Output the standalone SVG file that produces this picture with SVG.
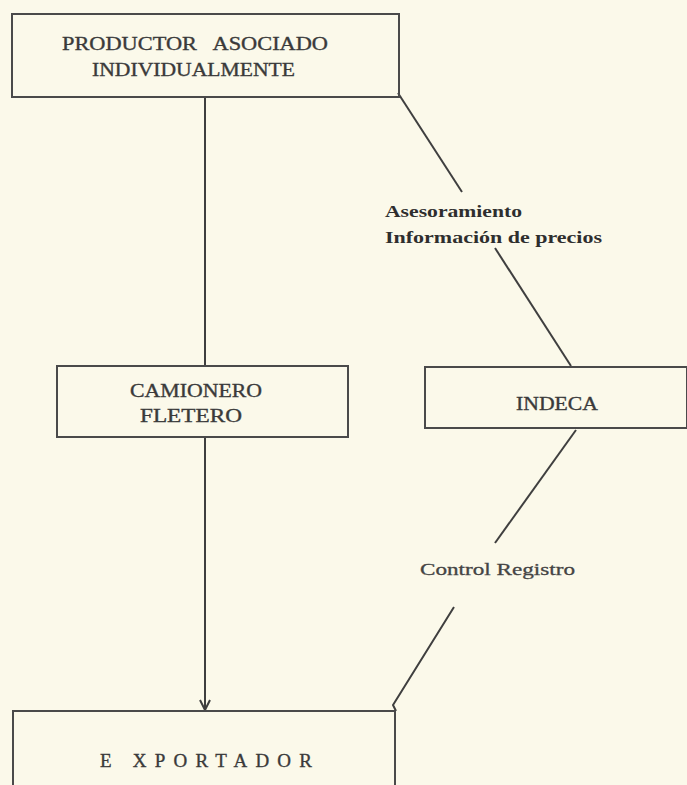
<svg xmlns="http://www.w3.org/2000/svg" width="687" height="785" viewBox="0 0 687 785">
  <style>
    .box { fill: none; stroke: #4a4a4a; stroke-width: 2; }
    .conn { fill: none; stroke: #3f3f3f; stroke-width: 2; }
    .t { font-family: "Liberation Serif", "Times New Roman", serif; fill: #3a3a3a; }
    .node { font-size: 19px; stroke: #3a3a3a; stroke-width: 0.35; }
    .lab { font-size: 16.5px; font-weight: bold; fill: #2e2e2e; }
    .lab2 { font-size: 17px; fill: #444; stroke: #444; stroke-width: 0.3; }
    .pre { white-space: pre; }
  </style>
  <defs>
    <marker id="arr" viewBox="0 0 12 12" refX="11" refY="6" markerWidth="12" markerHeight="12" markerUnits="userSpaceOnUse" orient="auto">
      <path d="M1,1 L11,6 L1,11" fill="none" stroke="#3f3f3f" stroke-width="2"/>
    </marker>
  </defs>
  <rect width="687" height="785" fill="#fbf9ea"/>

  <g id="connectors">
    <line class="conn" x1="205" y1="97" x2="205" y2="366"/>
    <line class="conn" x1="205" y1="437" x2="205" y2="710" marker-end="url(#arr)"/>
    <line class="conn" x1="398" y1="93" x2="462" y2="192"/>
    <line class="conn" x1="495" y1="248" x2="571" y2="366"/>
    <line class="conn" x1="576" y1="430" x2="495" y2="543"/>
    <polyline class="conn" points="454,607 393,705 396,711"/>
    <g id="labels">
      <text class="t lab" x="385" y="217" textLength="137" lengthAdjust="spacingAndGlyphs">Asesoramiento</text>
      <text class="t lab" x="385" y="243" textLength="217" lengthAdjust="spacingAndGlyphs">Información de precios</text>
      <text class="t lab2" x="420" y="575" textLength="155" lengthAdjust="spacingAndGlyphs">Control Registro</text>
    </g>
  </g>

  <g id="productor">
    <rect class="box" x="12" y="14" width="387" height="83"/>
    <text class="t node pre" x="62" y="50" textLength="266" lengthAdjust="spacingAndGlyphs">PRODUCTOR   ASOCIADO</text>
    <text class="t node" x="92" y="76" textLength="203" lengthAdjust="spacingAndGlyphs">INDIVIDUALMENTE</text>
  </g>

  <g id="camionero">
    <rect class="box" x="57" y="366" width="291" height="71"/>
    <text class="t node" x="130" y="397" textLength="132" lengthAdjust="spacingAndGlyphs">CAMIONERO</text>
    <text class="t node" x="140" y="422" textLength="102" lengthAdjust="spacingAndGlyphs">FLETERO</text>
  </g>

  <g id="indeca">
    <rect class="box" x="425" y="367" width="262" height="61"/>
    <text class="t node" x="516" y="410" textLength="82" lengthAdjust="spacingAndGlyphs">INDECA</text>
  </g>

  <g id="exportador">
    <rect class="box" x="13" y="711" width="382" height="90"/>
    <text class="t node" x="100" y="767" textLength="212" lengthAdjust="spacing">E XPORTADOR</text>
  </g>
</svg>
